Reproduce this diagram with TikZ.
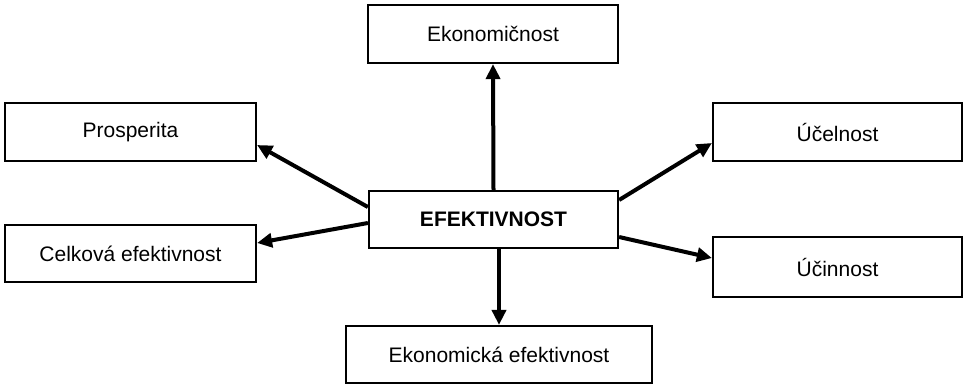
\documentclass[tikz,border=0pt]{standalone}
\usepackage{fontspec}
\setmainfont{Liberation Sans}
\usetikzlibrary{arrows.meta}
\begin{document}
\begin{tikzpicture}[x=1pt,y=-1pt,
  box/.style={draw=black,line width=2.2pt,fill=white,inner sep=0pt,font=\fontsize{21}{25}\selectfont},
  arr/.style={line width=4pt,-{Triangle[length=15pt,width=14pt]}}]
\useasboundingbox (0,0) rectangle (964,384);
\node[box,minimum width=250pt,minimum height=58pt] (ekon) at (493,34) {Ekonomičnost};
\node[box,minimum width=251pt,minimum height=58pt] (pros) at (130.5,132) {Prosperita};
\node[box,minimum width=251pt,minimum height=57pt] (celk) at (130.5,253.5) {Celková efektivnost};
\node[box,minimum width=249pt,minimum height=57pt,font=\fontsize{21}{25}\selectfont\bfseries] (efek) at (493.5,219.5) {EFEKTIVNOST};
\node[box,minimum width=249pt,minimum height=58pt] (ucel) at (837.5,132) {Účelnost};
\node[box,minimum width=249pt,minimum height=60pt] (ucin) at (837.5,267) {Účinnost};
\node[box,minimum width=306pt,minimum height=57pt] (ekef) at (499,354.5) {Ekonomická efektivnost};
\draw[arr] (efek.north) -- (ekon.south);
\draw[arr] (efek.south -| ekef.north) -- (ekef.north);
\draw[arr] ([yshift=12.5pt]efek.west) -- ([yshift=-13pt]pros.east);
\draw[arr] ([yshift=-3.5pt]efek.west) -- ([yshift=10.5pt]celk.east);
\draw[arr] ([yshift=19.5pt]efek.east) -- ([yshift=-11pt]ucel.west);
\draw[arr] ([yshift=-17.5pt]efek.east) -- ([yshift=9pt]ucin.west);
\end{tikzpicture}
\end{document}
